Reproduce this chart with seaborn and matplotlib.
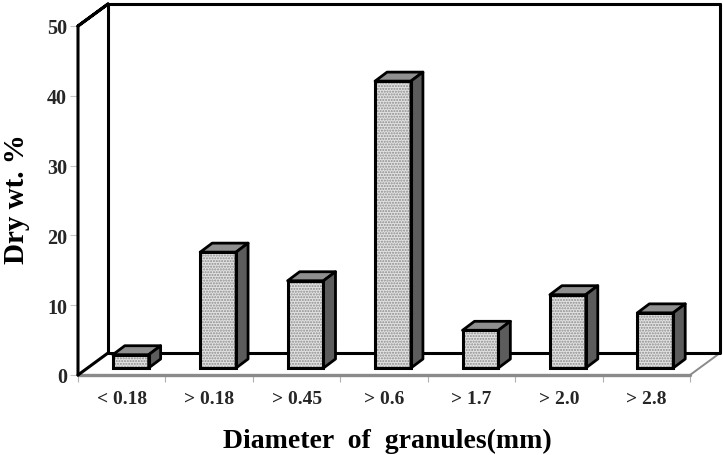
import matplotlib
matplotlib.use("Agg")
import matplotlib.pyplot as plt
import pandas as pd
import seaborn as sns
from matplotlib.patches import Polygon, Rectangle

# ─── Data ─────────────────────────────────────────────────────────────────────

categories = ["< 0.18", "> 0.18", "> 0.45", "> 0.6", "> 1.7", "> 2.0", "> 2.8"]
dry_wt = [1.9, 16.6, 12.5, 41.1, 5.4, 10.5, 7.9]
y_ticks = [0, 10, 20, 30, 40, 50]

# ─── Layout (pixels of the 723x456 figure) ────────────────────────────────────

W, H = 723, 456
LEFT, RIGHT, BOTTOM, TOP = 78, 690, 376, 27
PX_X = (RIGHT - LEFT) / len(categories)  # pixels per category
PX_Y = (BOTTOM - TOP) / 50  # pixels per percent

sns.set_theme(style="white")
plt.rcParams["font.family"] = ["Liberation Serif", "DejaVu Serif"]
plt.rcParams["font.weight"] = "bold"

fig = plt.figure(figsize=(W / 100, H / 100), dpi=100)
ax = fig.add_axes([LEFT / W, 1 - BOTTOM / H, (RIGHT - LEFT) / W, (BOTTOM - TOP) / H])
# bars stand a little behind the front edge of the floor
bar_ax = fig.add_axes([(LEFT + 9) / W, 1 - (BOTTOM - 7) / H, (RIGHT - LEFT) / W, (BOTTOM - TOP) / H])

# ── Walls and floor ───────────────────────────────────────────────────────────
ax.set_xlim(-0.5, 6.5)
ax.set_ylim(0, 50)
for side in ax.spines.values():
    side.set_visible(False)

x0, x1 = ax.get_xlim()
dx, dy = 30 / PX_X, 22 / PX_Y
wall = dict(color="black", lw=2.2, clip_on=False, solid_capstyle="round", zorder=2)
ax.plot([x0, x0, x0 + dx, x0], [0, 50, 50 + dy, 50], **wall)
ax.plot([x0 + dx, x0 + dx, x1 + dx, x1 + dx], [50 + dy, dy, dy, 50 + dy], **wall)
ax.plot([x0 + dx, x1 + dx], [50 + dy, 50 + dy], **wall)
ax.plot([x0, x0 + dx], [0, dy], **wall)
ax.plot([x0, x1], [0, 0], color="#8a8a8a", lw=2.4, clip_on=False, zorder=1)
ax.plot([x1, x1 + dx], [0, dy], color="#8a8a8a", lw=1.4, clip_on=False, zorder=1)

# ── Ticks ─────────────────────────────────────────────────────────────────────
ax.set_yticks(y_ticks)
ax.tick_params(axis="y", left=True, length=6, width=0.8, color="#c4c4c4", pad=2, labelsize=14.5)
ax.set_xticks([i - 0.5 for i in range(len(categories) + 1)], [""] * (len(categories) + 1))
ax.tick_params(axis="x", bottom=True, length=5, width=0.8, color="#b0b0b0")
ax.set_xticks(range(len(categories)), categories, minor=True)
ax.tick_params(axis="x", which="minor", bottom=False, length=0, pad=11, labelsize=14)

ax.set_xlabel("Diameter  of  granules(mm)", fontsize=20, fontweight="bold", labelpad=15, x=0.506, color="black")
ax.set_ylabel("Dry wt. %", fontsize=21, fontweight="bold", labelpad=12, y=0.506, color="black")

# ── Bars ──────────────────────────────────────────────────────────────────────
df = pd.DataFrame({"size": categories, "value": dry_wt})
sns.barplot(data=df, x="size", y="value", ax=bar_ax, width=0.41,
            color="#e2e2e2", saturation=1, edgecolor="#8c8c8c", linewidth=0, hatch="......")
bar_ax.set_xlim(-0.5, 6.5)
bar_ax.set_ylim(0, 50)
bar_ax.axis("off")
bar_ax.patch.set_alpha(0)

bx, by = 12 / PX_X, 9 / PX_Y
for bar in list(bar_ax.patches):
    l, w, h = bar.get_x(), bar.get_width(), bar.get_height()
    r = l + w
    top = Polygon([(l, h), (l + bx, h + by), (r + bx, h + by), (r, h)], closed=True,
                  fc="#8f8f8f", ec="black", lw=2, joinstyle="round", clip_on=False)
    side = Polygon([(r, 0), (r + bx, by), (r + bx, h + by), (r, h)], closed=True,
                   fc="#5c5c5c", ec="black", lw=2, joinstyle="round", clip_on=False)
    outline = Rectangle((l, 0), w, h, fc="none", ec="black", lw=2.2, clip_on=False, zorder=3)
    bar_ax.add_patch(top)
    bar_ax.add_patch(side)
    bar_ax.add_patch(outline)

fig.savefig("out.png", dpi=100)
